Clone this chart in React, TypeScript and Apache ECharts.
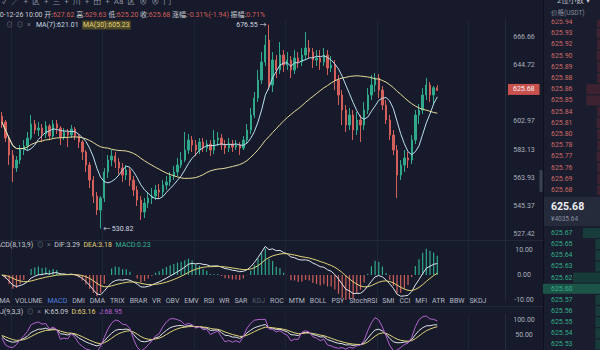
import React, { useEffect, useRef } from 'react';
import * as echarts from 'echarts';

// [open, close, low, high] — ETH/USDT hourly candles
const candles: number[][] = [
  [606.88, 602.57, 598.28, 609.77], [602.57, 591.2, 588.4, 604.0], [591.2, 579.37, 572.53, 592.62],
  [579.37, 570.49, 561.07, 582.83], [570.49, 575.94, 567.79, 578.69], [575.94, 582.83, 573.21, 586.3],
  [582.83, 585.6, 579.37, 589.8], [585.6, 591.2, 582.83, 595.44], [591.2, 601.13, 589.8, 607.6],
  [601.13, 596.86, 594.03, 604.0], [596.86, 598.28, 592.62, 602.57], [598.28, 594.03, 588.4, 601.13],
  [594.03, 599.7, 591.2, 603.28], [599.7, 592.62, 589.8, 601.13], [592.62, 601.13, 591.2, 604.0],
  [601.13, 598.28, 594.03, 604.0], [598.28, 591.91, 586.3, 599.7], [591.91, 595.44, 589.8, 598.28],
  [595.44, 593.32, 584.91, 597.57], [593.32, 597.57, 591.2, 600.42], [597.57, 592.62, 589.8, 598.99],
  [592.62, 588.4, 584.21, 594.03], [588.4, 581.45, 575.94, 589.8], [581.45, 572.53, 567.79, 582.83],
  [572.53, 562.41, 557.08, 574.57], [562.41, 551.8, 547.23, 565.09], [551.8, 542.69, 539.48, 554.43],
  [542.69, 550.49, 530.82, 551.8], [550.49, 567.79, 547.88, 570.49], [567.79, 575.94, 563.75, 579.37],
  [575.94, 578.69, 571.85, 582.83], [578.69, 574.57, 570.49, 581.45], [574.57, 570.49, 566.44, 577.31],
  [570.49, 565.76, 561.07, 573.89], [565.76, 569.14, 562.41, 572.53], [569.14, 562.41, 558.41, 570.49],
  [562.41, 555.75, 551.8, 565.09], [555.75, 549.18, 545.28, 558.41], [549.18, 541.4, 536.28, 551.8],
  [541.4, 547.23, 537.56, 550.49], [547.23, 550.49, 543.98, 554.43], [550.49, 551.8, 546.58, 557.08],
  [551.8, 555.75, 549.18, 559.08], [555.75, 554.43, 550.49, 559.74], [554.43, 559.08, 551.8, 562.41],
  [559.08, 561.07, 555.75, 565.09], [561.07, 565.09, 558.41, 567.79], [565.09, 567.79, 562.41, 571.85],
  [567.79, 572.53, 565.09, 577.31], [572.53, 575.94, 570.49, 581.45], [575.94, 582.83, 574.57, 595.44],
  [582.83, 589.8, 580.07, 594.03], [589.8, 586.3, 581.45, 592.62], [586.3, 582.83, 578.69, 589.8],
  [582.83, 588.4, 580.07, 591.2], [588.4, 584.21, 581.45, 591.2], [584.21, 587.0, 581.45, 589.8],
  [587.0, 582.83, 578.69, 589.8], [582.83, 589.8, 580.07, 596.86], [589.8, 591.2, 585.6, 595.44],
  [591.2, 586.3, 582.83, 594.03], [586.3, 584.21, 580.07, 589.8], [584.21, 587.0, 581.45, 591.2],
  [587.0, 584.91, 581.45, 589.8], [584.91, 586.3, 582.83, 589.8], [586.3, 584.21, 579.37, 588.4],
  [584.21, 589.8, 582.83, 592.62], [589.8, 596.86, 587.0, 601.13], [596.86, 607.6, 594.03, 612.69],
  [607.6, 620.01, 605.43, 624.46], [620.01, 633.43, 617.07, 641.01], [633.43, 647.13, 630.42, 654.87],
  [647.13, 660.35, 644.06, 668.25], [664.29, 629.67, 625.94, 676.55], [629.67, 648.67, 624.46, 654.87],
  [648.67, 641.01, 634.93, 652.54], [641.01, 652.54, 637.97, 662.71], [652.54, 644.83, 639.49, 656.43],
  [644.83, 648.67, 641.01, 654.87], [648.67, 641.01, 634.93, 651.77], [641.01, 650.22, 637.97, 656.43],
  [650.22, 647.13, 642.53, 654.87], [647.13, 652.54, 644.06, 657.99], [652.54, 657.99, 648.67, 670.64],
  [657.99, 654.87, 650.22, 664.29], [654.87, 648.67, 642.53, 657.99], [648.67, 650.22, 644.06, 656.43],
  [650.22, 647.13, 641.01, 656.43], [647.13, 652.54, 644.06, 657.99], [652.54, 642.53, 637.21, 656.43],
  [642.53, 644.83, 639.49, 651.77], [644.83, 633.43, 625.94, 648.67], [633.43, 622.23, 614.87, 637.21],
  [622.23, 611.23, 600.42, 625.94], [611.23, 600.42, 595.44, 614.87], [600.42, 607.6, 596.86, 612.69],
  [607.6, 596.86, 589.8, 611.23], [596.86, 604.0, 593.32, 609.77], [604.0, 600.42, 588.4, 607.6],
  [600.42, 611.23, 596.86, 617.07], [611.23, 622.23, 608.32, 627.43], [622.23, 629.67, 618.54, 637.21],
  [629.67, 634.93, 624.46, 638.73], [634.93, 625.94, 620.01, 637.97], [625.94, 614.87, 611.23, 628.93],
  [614.87, 604.0, 601.13, 618.54], [604.0, 593.32, 589.8, 607.6], [593.32, 582.83, 579.37, 596.86],
  [582.83, 565.76, 550.49, 586.3], [565.76, 572.53, 562.41, 575.94], [572.53, 577.31, 567.79, 582.83],
  [577.31, 575.94, 570.49, 581.45], [575.94, 589.8, 573.21, 593.32], [589.8, 607.6, 587.0, 611.23],
  [607.6, 611.23, 601.13, 615.6], [611.23, 622.23, 608.32, 627.43], [622.23, 629.67, 618.54, 634.93],
  [629.67, 622.23, 617.07, 631.92], [622.23, 627.62, 615.6, 628.93], [627.62, 625.68, 625.2, 629.63],
];

const slotCount = 138; // candle slots across the plot (incl. empty right margin)
const priceRange = [523.7, 680.3];
const priceTicks = [666.66, 644.72, 602.97, 583.13, 563.93, 545.37, 527.42];
const macdRange = [-10, 14];
const macdTicks = [-10, 0, 10];
const kdjRange = [0, 120];
const kdjTicks = [50, 100];
const highMark = { index: 73, value: 676.55 };
const lowMark = { index: 27, value: 530.82 };

const legendMA = { ma7: '621.01', ma30: '605.23' };
const legendMACD = { dif: '3.29', dea: '3.18', macd: '0.23' };
const legendKDJ = { k: '65.09', d: '63.16', j: '68.95' };
const timeLabel = '2020-12-26 10:00';

const askPrices = ['625.94', '625.93', '625.92', '625.90', '625.89', '625.88', '625.86', '625.85',
  '625.84', '625.81', '625.80', '625.78', '625.77', '625.76', '625.69', '625.68'];
const askDepth = [0.05, 0.06, 0.05, 0.06, 0.05, 0.05, 0.24, 0.24, 0.05, 0.06, 0.05, 0.05, 0.06, 0.05, 0.05, 0.05];
const bidPrices = ['625.67', '625.65', '625.64', '625.63', '625.62', '625.60', '625.57', '625.56',
  '625.55', '625.54', '625.53'];
const bidDepth = [0.3, 0.08, 0.08, 0.08, 0.47, 1.0, 0.08, 0.08, 0.08, 0.08, 0.08];
const midPrice = '625.68';
const midCny = '¥4035.64';

const tabNames = ['MA', 'VOLUME', 'MACD', 'DMI', 'DMA', 'TRIX', 'BRAR', 'VR', 'OBV', 'EMV', 'RSI', 'WR',
  'SAR', 'KDJ', 'ROC', 'MTM', 'BOLL', 'PSY', 'StochRSI', 'SMI', 'CCI', 'MFI', 'ATR', 'BBW', 'SKDJ'];

const FONT = 'Roboto, "Noto Sans CJK SC", sans-serif';
const UP = '#2fa98a';
const DOWN = '#d25f5a';
const WHITE = '#dfe3ea';
const YEL = '#e3d47a';
const PURP = '#b463d2';
const GREY = '#aab0bd';

function sma(vals: number[], n: number) {
  return vals.map((_, i) => {
    const s = Math.max(0, i - n + 1);
    let sum = 0;
    for (let k = s; k <= i; k++) sum += vals[k];
    return sum / (i - s + 1);
  });
}
function ema(vals: number[], n: number) {
  const a = 2 / (n + 1);
  const out: number[] = [];
  vals.forEach((v, i) => out.push(i === 0 ? v : a * v + (1 - a) * out[i - 1]));
  return out;
}

function buildOption() {
  const closes = candles.map((c) => c[1]);
  const lows = candles.map((c) => c[2]);
  const highs = candles.map((c) => c[3]);
  const ma7 = sma(closes, 7);
  const ma30 = sma(closes, 30);
  const e8 = ema(closes, 8);
  const e13 = ema(closes, 13);
  const dif = e8.map((v, i) => v - e13[i]);
  const dea = ema(dif, 9);
  const hist = dif.map((v, i) => 2 * (v - dea[i]));
  const K: number[] = [], D: number[] = [], J: number[] = [];
  let k = 50, d = 50;
  closes.forEach((c, i) => {
    const s = Math.max(0, i - 8);
    const lo = Math.min(...lows.slice(s, i + 1));
    const hi = Math.max(...highs.slice(s, i + 1));
    const rsv = hi === lo ? 50 : ((c - lo) / (hi - lo)) * 100;
    k = (2 * k + rsv) / 3;
    d = (2 * d + k) / 3;
    K.push(k); D.push(d); J.push(3 * k - 2 * d);
  });
  const cats = Array.from({ length: slotCount }, (_, i) => String(i));
  const last = candles[candles.length - 1];
  const prev = candles[candles.length - 2][1];
  const chg = last[1] - prev;
  const chgPct = (chg / prev) * 100;
  const amp = ((last[3] - last[2]) / prev) * 100;

  const xCat = (gridIndex: number) => ({
    type: 'category', gridIndex, data: cats, boundaryGap: true,
    axisLine: { show: false }, axisTick: { show: false }, axisLabel: { show: false },
    splitLine: { show: true, interval: (i: number) => (i - 3) % 25 === 0, lineStyle: { color: '#1f2435', width: 1 } },
  });
  const axisCommon = {
    type: 'value', position: 'right', z: 20,
    axisLine: { show: true, lineStyle: { color: '#262b3b' } }, axisTick: { show: false }, splitLine: { show: false },
  };
  const labelCommon = {
    color: GREY, fontSize: 7, fontFamily: FONT, margin: 19, align: 'center', hideOverlap: false,
    showMinLabel: true, showMaxLabel: true,
  };
  const line = (x: number, data: number[], color: string) => ({
    type: 'line', xAxisIndex: x, yAxisIndex: x, data, showSymbol: false, silent: true,
    lineStyle: { color, width: 1 }, itemStyle: { color },
  });
  const t = (x: number, y: number, text: string, rich: any, extra: any = {}) => ({
    type: 'text', x, y, z: 50, silent: true,
    style: { text, rich, fontSize: 7, fontFamily: FONT, fill: GREY, verticalAlign: 'middle', ...extra },
  });
  const r = (fill: string, fs = 7, more: any = {}) => ({ fill, fontSize: fs, fontFamily: FONT, ...more });

  const tabText = tabNames.map((n) => `{${n === 'MACD' ? 'a' : n === 'KDJ' ? 'd' : 'n'}|${n}}`).join('');
  const tabPad = [0, 2.45];

  return {
    animation: false,
    backgroundColor: '#161a2a',
    grid: [
      { left: 0, top: 20, width: 505, height: 220 },
      { left: 0, top: 240, width: 505, height: 60 },
      { left: 0, top: 314.2, width: 505, height: 40.8 },
      { left: 543, top: 16.4, width: 57, height: 179.2 },
      { left: 543, top: 227.4, width: 57, height: 123.2 },
    ],
    xAxis: [
      xCat(0), xCat(1), xCat(2),
      { type: 'value', gridIndex: 3, min: 0, max: 1, inverse: true, show: false },
      { type: 'value', gridIndex: 4, min: 0, max: 1, inverse: true, show: false },
    ],
    yAxis: [
      {
        ...axisCommon, gridIndex: 0, min: Math.log(priceRange[0]), max: Math.log(priceRange[1]),
        axisLabel: { ...labelCommon, customValues: priceTicks.map(Math.log), formatter: (v: number) => Math.exp(v).toFixed(2) },
      },
      {
        ...axisCommon, gridIndex: 1, min: macdRange[0], max: macdRange[1], interval: 10,
        axisLabel: { ...labelCommon, formatter: (v: number) => (macdTicks.includes(v) ? v.toFixed(2) : '') },
      },
      {
        ...axisCommon, gridIndex: 2, min: kdjRange[0], max: kdjRange[1], interval: 50,
        axisLabel: { ...labelCommon, formatter: (v: number) => (kdjTicks.includes(v) ? v.toFixed(2) : '') },
      },
      {
        type: 'category', gridIndex: 3, data: askPrices, inverse: true, z: 5,
        axisLine: { show: false }, axisTick: { show: false },
        axisLabel: { inside: true, margin: 8, color: '#cf6a68', fontSize: 7, fontFamily: FONT },
      },
      {
        type: 'category', gridIndex: 4, data: bidPrices, inverse: true, z: 5,
        axisLine: { show: false }, axisTick: { show: false },
        axisLabel: { inside: true, margin: 8, color: '#33ad8b', fontSize: 7, fontFamily: FONT },
      },
    ],
    series: [
      {
        type: 'candlestick', xAxisIndex: 0, yAxisIndex: 0, silent: true,
        data: candles.map((c) => c.map((v) => Math.log(v))),
        barMaxWidth: 2,
        itemStyle: { color: UP, color0: DOWN, borderColor: UP, borderColor0: DOWN, borderWidth: 1 },
        markLine: {
          silent: true, symbol: 'none', animation: false,
          lineStyle: { color: 'rgba(0,0,0,0)', width: 1, type: 'solid' },
          data: [{ yAxis: Math.log(last[1]) }],
          label: {
            show: true, position: 'end', distance: 3, formatter: () => last[1].toFixed(2),
            backgroundColor: '#c9514d', color: '#f4f4f6', fontSize: 7, fontFamily: FONT, padding: [2, 5],
          },
        },
        markPoint: {
          silent: true, symbol: 'circle', symbolSize: 1, itemStyle: { color: 'rgba(0,0,0,0)' },
          data: [
            { coord: [highMark.index, Math.log(highMark.value)], label: { show: true, position: 'left', distance: 2, formatter: `${highMark.value.toFixed(2)} →`, color: '#d5d8e0', fontSize: 7, fontFamily: FONT } },
            { coord: [lowMark.index, Math.log(lowMark.value)], label: { show: true, position: 'right', distance: 2, formatter: `← ${lowMark.value.toFixed(2)}`, color: '#d5d8e0', fontSize: 7, fontFamily: FONT } },
          ],
        },
      },
      line(0, ma7.map(Math.log), '#bcdff0'),
      line(0, ma30.map(Math.log), '#e6dc9c'),
      {
        type: 'bar', xAxisIndex: 1, yAxisIndex: 1, data: hist, barWidth: 1.2, silent: true,
        itemStyle: { color: (p: any) => (p.value >= 0 ? UP : DOWN) },
      },
      line(1, dif, WHITE),
      line(1, dea, YEL),
      line(2, K, WHITE),
      line(2, D, YEL),
      line(2, J, PURP),
      { type: 'bar', xAxisIndex: 3, yAxisIndex: 3, data: askDepth, barWidth: 10, silent: true, itemStyle: { color: '#3d2231' } },
      {
        type: 'bar', xAxisIndex: 4, yAxisIndex: 4, data: bidDepth, barWidth: 10, silent: true,
        itemStyle: { color: (p: any) => (p.value >= 0.9 ? '#1d5448' : '#173c39') },
      },
    ],
    graphic: [
      { type: 'rect', z: -1, silent: true, shape: { x: 543, y: 0, width: 57, height: 350 }, style: { fill: '#191d2d' } },
      { type: 'line', z: 1, silent: true, shape: { x1: 543.5, y1: 0, x2: 543.5, y2: 350 }, style: { stroke: '#0e111b', lineWidth: 1 } },
      { type: 'line', z: 1, silent: true, shape: { x1: 0, y1: 240.5, x2: 543, y2: 240.5 }, style: { stroke: '#232838', lineWidth: 1 } },
      { type: 'line', z: 1, silent: true, shape: { x1: 0, y1: 306.5, x2: 543, y2: 306.5 }, style: { stroke: '#232838', lineWidth: 1 } },
      { type: 'rect', z: 1, silent: true, shape: { x: 544, y: 197, width: 56, height: 29 }, style: { fill: '#262b3c' } },
      { type: 'rect', z: 1, silent: true, shape: { x: 539.5, y: 170, width: 3, height: 22, r: 1 }, style: { fill: '#3b4152' } },
      { type: 'rect', z: 40, silent: true, shape: { x: 544, y: 0, width: 56, height: 19.5 }, style: { fill: '#191d2d' } },
      t(551, 206, midPrice, {}, { fontSize: 10.5, fontWeight: 'bold', fill: '#eef0f4' }),
      t(551, 218.5, midCny, {}, { fontSize: 6.5, fill: '#868c9c' }),
      t(551, 12.5, '价格(USDT)', {}, { fontSize: 6.5, fill: '#868c9c' }),
      t(557, 0.5, '2位小数 ▾', {}, { fontSize: 7.5, fill: '#c3c7d0' }),
      t(2, 1, '✓  ╱  +  区  +  三  +  川  +  田  +  Aa  区  ⊗  ⊗  冂', {}, { fontSize: 8, fill: '#8a90a0' }),
      t(-12, 15,
        `{w|${timeLabel}} {w|开:}{v|${last[0].toFixed(2)}} {w|高:}{v|${last[3].toFixed(2)}} {w|低:}{v|${last[2].toFixed(2)}} {w|收:}{v|${last[1].toFixed(2)}} {w|涨幅:}{v|${chgPct.toFixed(2)}%(${chg.toFixed(2)})} {w|振幅:}{v|${amp.toFixed(2)}%}`,
        { w: r('#c8ccd5'), v: r(DOWN) }),
      t(6, 25, `{i|⊙}  {i|⊙}  {i|×}   {m|MA(7):${legendMA.ma7}}  {y|MA(30):${legendMA.ma30}}`,
        { i: r('#6b7080'), m: r('#c6d9e6'), y: r(YEL, 7, { backgroundColor: '#4d4826', padding: [1, 1] }) }),
      t(-10, 245, `{w|MACD(8,13,9)}  {i|⊙}  {i|×}  {w|DIF:${legendMACD.dif}}  {y|DEA:${legendMACD.dea}}  {g|MACD:${legendMACD.macd}}`,
        { w: r('#c8ccd5'), i: r('#6b7080'), y: r(YEL), g: r('#36b592') }),
      t(-3, 301, tabText,
        { n: r('#b3b8c4', 7, { padding: tabPad }), a: r('#4f80e0', 7, { padding: tabPad }), d: r('#5a6070', 7, { padding: tabPad }) }),
      t(-9, 311.5, `{w|KDJ(9,3,3)}  {i|⊙}  {i|×}  {w|K:${legendKDJ.k}}  {y|D:${legendKDJ.d}}  {p|J:${legendKDJ.j}}`,
        { w: r('#c8ccd5'), i: r('#6b7080'), y: r(YEL), p: r(PURP) }),
    ],
  };
}

export default function App() {
  const ref = useRef<HTMLDivElement>(null);
  useEffect(() => {
    const chart = echarts.init(ref.current!, null, { renderer: 'svg' });
    chart.setOption(buildOption() as any);
    return () => chart.dispose();
  }, []);
  return <div ref={ref} style={{ position: 'fixed', left: 0, top: 0, width: 600, height: 350 }} />;
}
